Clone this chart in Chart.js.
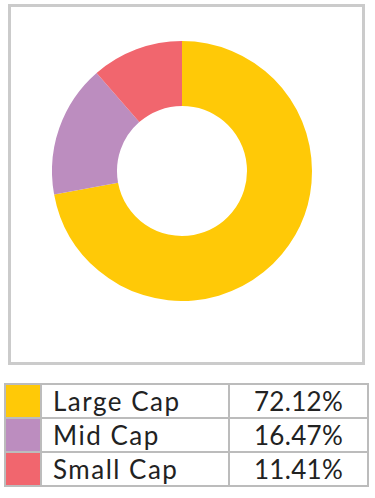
<!DOCTYPE html>
<html>
<head>
<meta charset="utf-8">
<script src="https://cdn.jsdelivr.net/npm/chart.js@4/dist/chart.umd.min.js"></script>
<style>
  html, body { margin: 0; padding: 0; background: #fff; }
  body { width: 375px; height: 498px; position: relative; overflow: hidden; font-family: Lato, "Noto Sans", sans-serif; }
  #box { position: absolute; left: 8px; top: 4px; width: 351px; height: 355px; border: 3px solid #cbcbcb; }
  #wrap { position: absolute; left: 52px; top: 41px; width: 260px; height: 260px; }
  #legend { position: absolute; left: 4px; top: 383px; border-collapse: collapse; }
  #legend td { border: 2px solid #bcbcbc; height: 32px; padding: 0; font-size: 26px; font-weight: 400; color: #222; line-height: 32px; }
  #legend td.sw { width: 34px; }
  #legend td.lab { width: 175px; padding-left: 11px; letter-spacing: 1.5px; }
  #legend td.val { width: 137px; text-align: center; letter-spacing: 0.3px; }
</style>
</head>
<body>
<div id="box"></div>
<div id="wrap"><canvas id="pie" width="260" height="260"></canvas></div>
<table id="legend"></table>
<script>
var labels = ['Large Cap', 'Mid Cap', 'Small Cap'];
var shares = [72.12, 16.47, 11.41];
var colors = ['#ffc907', '#bc8dbf', '#f1666e'];

var ctx = document.getElementById('pie').getContext('2d');
var pie = new Chart(ctx, {
    type: 'doughnut',
    data: {
        labels: labels,
        datasets: [{
            data: shares,
            backgroundColor: colors,
            borderWidth: 0,
            hoverOffset: 0
        }]
    },
    options: {
        responsive: false,
        animation: false,
        cutout: '50%',
        layout: { padding: 0 },
        plugins: {
            legend: { display: false },
            tooltip: { enabled: false }
        }
    }
});

var table = document.getElementById('legend');
labels.forEach(function (name, i) {
    var row = table.insertRow();
    var sw = row.insertCell();
    sw.className = 'sw';
    sw.style.background = colors[i];
    var lab = row.insertCell();
    lab.className = 'lab';
    lab.textContent = name;
    var val = row.insertCell();
    val.className = 'val';
    val.textContent = shares[i].toFixed(2) + '%';
});
</script>
</body>
</html>
